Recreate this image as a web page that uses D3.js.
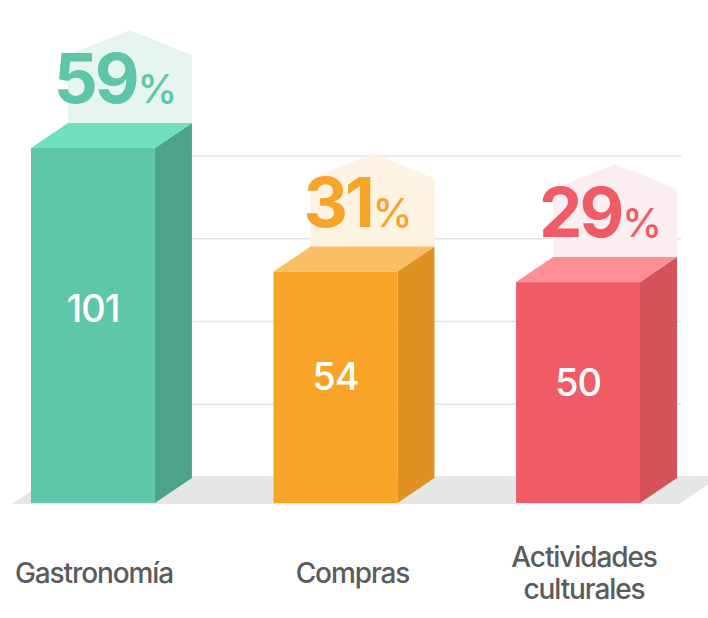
<!DOCTYPE html>
<html>
<head>
<meta charset="utf-8">
<script src="https://cdn.jsdelivr.net/npm/d3@7"></script>
<style>
  html, body { margin: 0; padding: 0; background: #ffffff; }
  svg { display: block; }
</style>
</head>
<body>
<div id="chart"></div>
<script>
// ---- data ----
const categories = ["Gastronomía", "Compras", "Actividades culturales"];
const counts = [101, 54, 50];
const percents = [59, 31, 29];
const gridTicks = [1, 2, 3, 4];

// ---- palette (per category) ----
const frontColors = ["#5fc6a9", "#f8a427", "#f05c65"];
const topColors   = ["#70e0c0", "#fbbd66", "#ff8e95"];
const sideColors  = ["#4ca389", "#dd9222", "#d55259"];
const houseColors = ["#e7f5f1", "#fef3e2", "#fbeef0"];
const pctColors   = ["#5ec6a8", "#f7a428", "#ef5c66"];

const W = 708, H = 618;
const baseY = 503;      // front bottom of bars
const dx = 37, dy = 25; // 3D depth offsets
const FONT = "Inter, 'Open Sans', sans-serif";

const svg = d3.select("#chart").append("svg")
  .attr("width", W).attr("height", H);

const x = d3.scaleBand()
  .domain(categories)
  .range([31, 640])
  .paddingInner(0.489)
  .paddingOuter(0);

const y = d3.scaleLinear()
  .domain([-34, 101])
  .range([baseY, 148]);

const grid = d3.scaleLinear()
  .domain([0, 4])
  .range([487, 156]);

// floor
const floorTop = 476, floorBottom = 504;
const slant = (floorBottom - floorTop) * dx / dy;
svg.append("polygon")
  .attr("points", [
    [12, floorBottom], [679, floorBottom],
    [679 + slant, floorTop], [12 + slant, floorTop]
  ].map(p => p.join(",")).join(" "))
  .attr("fill", "#e6e6e6");

// grid lines
svg.append("g").selectAll("line")
  .data(gridTicks).join("line")
  .attr("x1", 53).attr("x2", 681)
  .attr("y1", d => grid(d)).attr("y2", d => grid(d))
  .attr("stroke", "#e3e3e3").attr("stroke-width", 1.5);

const bars = svg.append("g").selectAll("g")
  .data(categories.map((c, i) => ({ c, i, v: counts[i], p: percents[i] })))
  .join("g");

const pts = arr => arr.map(p => p.join(",")).join(" ");

bars.each(function (d) {
  const g = d3.select(this);
  const x0 = x(d.c), x1 = x0 + x.bandwidth();
  const yt = y(d.v);
  const yb = baseY;
  // house-shaped backdrop above the bar
  const hb = yt - dy;
  g.append("polygon")
    .attr("points", pts([
      [x0 + dx, hb], [x1 + dx, hb], [x1 + dx, hb - 68],
      [(x0 + x1) / 2 + dx, hb - 93], [x0 + dx, hb - 68]
    ]))
    .attr("fill", houseColors[d.i]);
  // side
  g.append("polygon")
    .attr("points", pts([[x1, yt], [x1 + dx, yt - dy], [x1 + dx, yb - dy], [x1, yb]]))
    .attr("fill", sideColors[d.i]);
  // top
  g.append("polygon")
    .attr("points", pts([[x0, yt], [x1, yt], [x1 + dx, yt - dy], [x0 + dx, yt - dy]]))
    .attr("fill", topColors[d.i]);
  // front
  g.append("rect")
    .attr("x", x0).attr("y", yt)
    .attr("width", x1 - x0).attr("height", yb - yt)
    .attr("fill", frontColors[d.i]);
  // value label
  g.append("text")
    .attr("x", (x0 + x1) / 2)
    .attr("y", yt + 0.45 * (yb - yt))
    .attr("text-anchor", "middle")
    .attr("dominant-baseline", "central")
    .attr("font-family", FONT)
    .attr("font-weight", 500)
    .attr("font-size", 38)
    .attr("letter-spacing", -1)
    .attr("fill", "#ffffff")
    .text(d.v);
  // percent label
  const t = g.append("text")
    .attr("x", (x0 + x1 + dx) / 2 + 4)
    .attr("y", hb - 20)
    .attr("text-anchor", "middle")
    .attr("font-family", FONT)
    .attr("fill", pctColors[d.i]);
  t.append("tspan")
    .attr("font-size", 69).attr("font-weight", 700)
    .attr("letter-spacing", -3)
    .text(d.p);
  t.append("tspan")
    .attr("font-size", 40).attr("font-weight", 500)
    .attr("dx", 1)
    .text("%");
  // category label
  const words = d.c === "Actividades culturales" ? ["Actividades", "culturales"] : [d.c];
  const lab = g.append("text")
    .attr("text-anchor", "middle")
    .attr("font-family", FONT)
    .attr("font-weight", 500)
    .attr("font-size", 28)
    .attr("fill", "#5b5b5b")
    .attr("letter-spacing", -1.1);
  const cx = (x0 + x1) / 2 + (d.i === 1 ? 17 : d.i === 2 ? 6 : 1);
  if (words.length === 1) {
    lab.append("tspan").attr("x", cx).attr("y", 583).text(words[0]);
  } else {
    lab.append("tspan").attr("x", cx).attr("y", 567).text(words[0]);
    lab.append("tspan").attr("x", cx).attr("y", 598.5).text(words[1]);
  }
});
</script>
</body>
</html>
